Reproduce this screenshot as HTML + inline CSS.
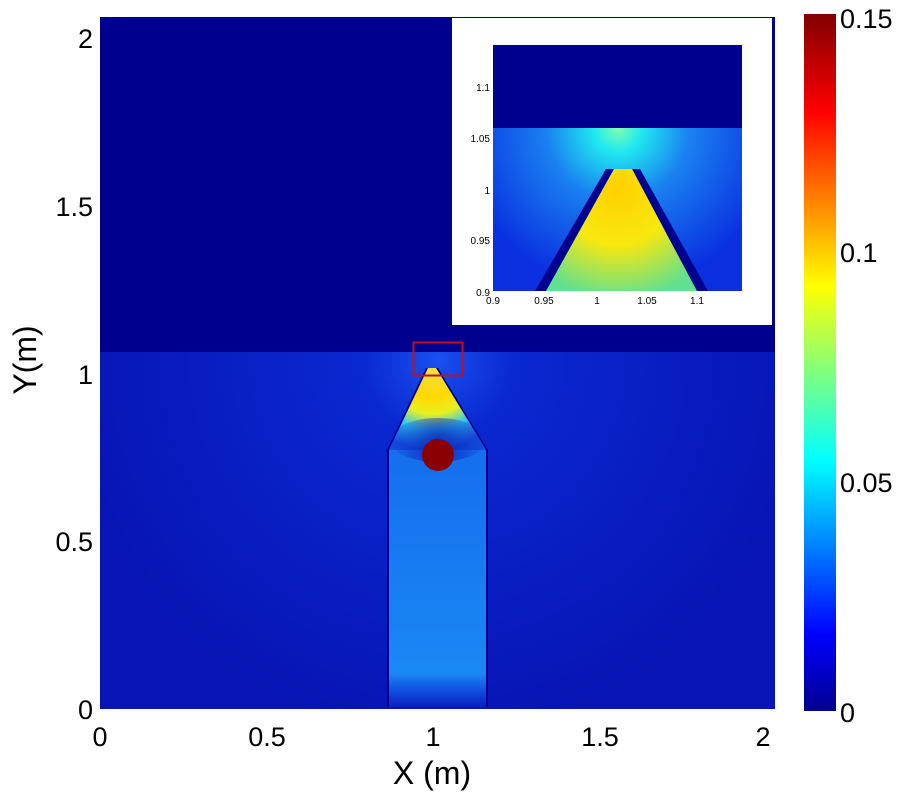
<!DOCTYPE html>
<html><head><style>body{margin:0;background:#fff}svg{display:block}</style></head><body>
<svg width="900" height="800" viewBox="0 0 900 800" xmlns="http://www.w3.org/2000/svg" font-family="Liberation Sans, sans-serif">
<defs>
<linearGradient id="jet" x1="0" y1="1" x2="0" y2="0">
<stop offset="0" stop-color="#00008f"/><stop offset="0.11" stop-color="#0000ff"/>
<stop offset="0.36" stop-color="#00ffff"/><stop offset="0.61" stop-color="#ffff00"/>
<stop offset="0.86" stop-color="#ff0000"/><stop offset="1" stop-color="#800000"/>
</linearGradient>
<radialGradient id="cone" cx="432" cy="370" r="80" gradientUnits="userSpaceOnUse">
<stop offset="0" stop-color="#f0e040"/><stop offset="0.35" stop-color="#ffd800"/><stop offset="0.55" stop-color="#e8f020"/><stop offset="0.75" stop-color="#30c8f0"/><stop offset="1" stop-color="#1450e0"/>
</radialGradient>
<radialGradient id="bg" cx="438" cy="360" r="380" gradientUnits="userSpaceOnUse">
<stop offset="0" stop-color="#1a50f0"/><stop offset="0.2" stop-color="#0a28d0"/><stop offset="1" stop-color="#0814b4"/>
</radialGradient>
<radialGradient id="dark" cx="438" cy="445" r="50" gradientUnits="userSpaceOnUse">
<stop offset="0" stop-color="#0820b8" stop-opacity="0.9"/><stop offset="1" stop-color="#0820b8" stop-opacity="0"/>
</radialGradient>
<linearGradient id="rect" x1="0" y1="0" x2="0" y2="1">
<stop offset="0" stop-color="#1a70f0"/><stop offset="0.3" stop-color="#1570ee"/><stop offset="0.9" stop-color="#1a88f4"/><stop offset="0.95" stop-color="#1050e0"/><stop offset="1" stop-color="#0a20c0"/>
</linearGradient>
<radialGradient id="ins" cx="618" cy="128" r="160" gradientUnits="userSpaceOnUse">
<stop offset="0" stop-color="#80ffb0"/><stop offset="0.15" stop-color="#20e8f0"/><stop offset="0.45" stop-color="#1a80f0"/><stop offset="1" stop-color="#0a30e0"/>
</radialGradient>
<radialGradient id="insc" cx="618" cy="190" r="110" gradientUnits="userSpaceOnUse">
<stop offset="0" stop-color="#ffd000"/><stop offset="0.5" stop-color="#f8e810"/><stop offset="1" stop-color="#60e090"/>
</radialGradient>
</defs>
<rect x="100" y="17" width="675" height="335" fill="#00008f"/>
<rect x="100" y="352" width="675" height="357" fill="url(#bg)"/>
<polygon points="426,368 438,368 488,450 488,707 387,707 387,450" fill="#00008f"/>
<polygon points="428,368 436,368 486,450 486,707 389,707 389,450" fill="url(#rect)"/>
<polygon points="428,368 436,368 486,450 389,450" fill="url(#cone)"/>
<ellipse cx="438" cy="440" rx="48" ry="22" fill="url(#dark)"/>
<circle cx="438" cy="455" r="16" fill="#8b0000"/>
<rect x="413.5" y="342.5" width="49" height="33" fill="none" stroke="#c01020" stroke-width="2"/>
<rect x="452" y="18" width="320" height="307" fill="#fff"/>
<rect x="493" y="45" width="249" height="83" fill="#00008f"/>
<rect x="493" y="128" width="249" height="163" fill="url(#ins)"/>
<polygon points="606,169 614,169 546,291 535,291" fill="#00008f"/>
<polygon points="632,169 640,169 708,291 697,291" fill="#00008f"/>
<polygon points="614,169 632,169 697,291 546,291" fill="url(#insc)"/>
<g font-size="10" text-anchor="end" fill="#000">
<text x="490" y="91">1.1</text><text x="490" y="142">1.05</text><text x="490" y="194">1</text><text x="490" y="244">0.95</text><text x="490" y="296">0.9</text>
</g>
<g font-size="10" text-anchor="middle" fill="#000">
<text x="493" y="304">0.9</text><text x="544" y="304">0.95</text><text x="597" y="304">1</text><text x="647" y="304">1.05</text><text x="697" y="304">1.1</text>
</g>
<rect x="804" y="14" width="32" height="697" fill="url(#jet)"/>
<g font-size="27" fill="#000">
<text x="93" y="48" text-anchor="end">2</text><text x="93" y="216" text-anchor="end">1.5</text><text x="93" y="384" text-anchor="end">1</text><text x="93" y="551" text-anchor="end">0.5</text><text x="93" y="719" text-anchor="end">0</text>
<text x="100" y="746" text-anchor="middle">0</text><text x="267" y="746" text-anchor="middle">0.5</text><text x="433" y="746" text-anchor="middle">1</text><text x="600" y="746" text-anchor="middle">1.5</text><text x="763" y="746" text-anchor="middle">2</text>
<text x="840" y="28">0.15</text><text x="840" y="262">0.1</text><text x="840" y="492">0.05</text><text x="840" y="722">0</text>
<text x="432" y="784" text-anchor="middle" font-size="32">X (m)</text>
<text transform="translate(36,360) rotate(-90)" text-anchor="middle" font-size="32">Y(m)</text>
</g>
</svg>
</body></html>
